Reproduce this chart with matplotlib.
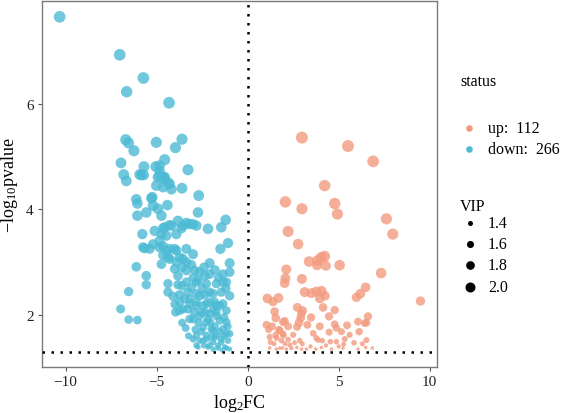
import matplotlib
matplotlib.use("Agg")
import matplotlib.pyplot as plt

plt.rcParams["font.family"] = ["Liberation Serif", "DejaVu Serif"]
plt.rcParams["mathtext.fontset"] = "custom"
plt.rcParams["mathtext.rm"] = "Liberation Serif"
plt.rcParams["mathtext.it"] = "Liberation Serif:italic"

UP_COLOR = "#F39B7F"
DOWN_COLOR = "#4DBBD5"

# up-regulated: (log2FC, -log10 p, VIP)
up_fc = [2.98, 5.51, 6.89, 4.23, 2.07, 2.98, 4.78, 4.93, 7.62, 7.97, 2.22, 2.77, 3.37, 3.83, 4.05,
         4.23, 3.81, 4.29, 5.05, 7.33, 2.12, 2.07, 2.03, 2.98, 3.13, 3.50, 3.77, 4.05, 3.96, 4.25,
         6.48, 6.19, 5.97, 9.49, 1.08, 1.39, 1.69, 1.48, 1.54, 2.73, 3.01, 2.91, 2.82, 3.48, 4.14,
         4.47, 4.78, 2.03, 2.22, 1.03, 1.34, 1.72, 1.96, 2.71, 3.28, 3.96, 4.78, 4.87, 5.46, 6.06,
         6.61, 6.52, 6.12, 4.47, 5.15, 3.77, 4.10, 4.54, 4.87, 5.33, 5.84, 6.52, 1.21, 1.25, 1.58,
         1.85, 2.31, 2.40, 2.86, 3.23, 1.21, 1.58, 1.90, 4.05, 4.60, 5.24, 6.06, 6.48, 6.85, 2.12,
         2.58, 2.22, 2.95, 3.74, 5.27, 1.94, 1.76, 1.54, 1.94, 2.95, 6.43, 3.87, 1.76, 1.15, 2.50,
         3.60, 5.60, 3.00, 4.30, 5.00, 2.70, 1.45, 6.30, 3.45, 2.05]
up_p = [5.36, 5.20, 4.91, 4.45, 4.14, 4.01, 4.11, 3.91, 3.82, 3.53, 3.58, 3.34, 3.01, 3.03, 3.09,
        3.11, 2.94, 2.93, 2.94, 2.79, 2.86, 2.69, 2.60, 2.68, 2.43, 2.41, 2.44, 2.45, 2.31, 2.36,
        2.52, 2.40, 2.33, 2.26, 2.31, 2.25, 2.32, 2.06, 1.94, 2.14, 2.08, 1.94, 1.85, 1.95, 2.14,
        1.97, 2.09, 1.88, 1.78, 1.81, 1.78, 1.72, 1.61, 1.77, 1.81, 1.78, 1.82, 1.75, 1.80, 1.87,
        1.97, 1.85, 1.68, 1.67, 1.68, 1.56, 1.51, 1.49, 1.49, 1.54, 1.47, 1.52, 1.58, 1.48, 1.56,
        1.51, 1.43, 1.37, 1.51, 1.35, 1.37, 1.35, 1.37, 1.38, 1.35, 1.37, 1.35, 1.38, 1.37, 1.35,
        1.47, 1.53, 1.35, 1.35, 1.44, 1.86, 1.70, 1.62, 1.64, 2.02, 1.84, 1.52, 1.37, 1.72, 1.62,
        1.65, 1.62, 1.45, 1.42, 1.40, 1.38, 1.45, 1.45, 1.40, 1.45]
up_vip = [2.35, 2.35, 2.30, 2.25, 2.25, 2.20, 2.25, 2.20, 2.20, 2.20, 2.20, 2.10, 2.10, 2.10, 2.15,
          2.15, 2.00, 2.00, 2.10, 2.10, 2.00, 2.00, 1.95, 2.00, 2.00, 2.00, 2.00, 2.05, 1.95, 1.90,
          1.95, 1.95, 1.90, 1.90, 1.95, 1.90, 1.95, 1.80, 1.80, 1.85, 1.85, 1.80, 1.80, 1.75, 1.80,
          1.75, 1.75, 1.75, 1.70, 1.70, 1.70, 1.65, 1.55, 1.70, 1.70, 1.70, 1.70, 1.65, 1.70, 1.70,
          1.75, 1.70, 1.65, 1.60, 1.60, 1.50, 1.45, 1.45, 1.45, 1.50, 1.45, 1.50, 1.50, 1.45, 1.50,
          1.45, 1.40, 1.35, 1.45, 1.30, 1.30, 1.30, 1.30, 1.30, 1.30, 1.30, 1.30, 1.30, 1.30, 1.30,
          1.40, 1.45, 1.30, 1.30, 1.40, 1.70, 1.65, 1.55, 1.55, 1.80, 1.65, 1.45, 1.30, 1.60, 1.50,
          1.55, 1.50, 1.40, 1.35, 1.35, 1.30, 1.40, 1.40, 1.35, 1.40]

# down-regulated
down_fc = [-10.33, -7.03, -5.73, -6.65, -4.32, -6.70, -6.55, -6.25, -5.02, -3.61, -3.97, -6.96, -5.70, -5.05, -4.56,
           -3.28, -4.84, -6.81, -5.93, -5.84, -4.84, -4.56, -6.67, -5.71, -4.65, -4.38, -4.19, -4.84, -4.93, -4.56,
           -4.29, -4.65, -5.02, -3.61, -2.69, -5.24, -6.12, -6.06, -5.29, -5.20, -4.93, -4.41, -6.06, -5.57, -4.74,
           -2.73, -1.21, -1.45, -3.83, -3.37, -4.29, -4.65, -3.64, -3.00, -2.18, -5.11, -5.79, -4.47, -3.92, -2.82,
           -3.19, -3.56, -4.19, -4.56, -4.74, -4.84, -5.20, -5.66, -5.38, -4.65, -4.29, -3.92, -3.37, -3.00, -1.08,
           -1.50, -4.65, -4.29, -3.56, -2.09, -0.99, -5.75, -4.84, -4.47, -4.01, -3.74, -4.38, -4.74, -3.92, -3.37,
           -6.12, -5.57, -5.57, -6.54, -6.98, -6.54, -6.06, -4.01, -3.83, -3.37, -2.91, -2.36, -2.09, -1.36, -0.99,
           -4.38, -4.38, -3.83, -3.37, -3.09, -2.73, -2.27, -1.72, -1.36, -3.74, -3.28, -2.82, -2.36, -1.45, -0.99,
           -3.96, -3.56, -3.19, -2.82, -2.45, -2.09, -1.72, -1.36, -1.17, -2.54, -2.09, -1.72, -3.00, -2.27, -1.54,
           -1.17, -3.41, -2.87, -1.99, -1.36, -2.82, -2.27, -1.72, -1.17, -3.00, -2.45, -1.91, -1.45, -1.08, -2.73,
           -2.18, -1.63, -1.17, -2.82, -2.64, -1.17, -2.09, -2.64, -3.19, -3.74, -3.74, -3.28, -2.82, -2.27, -1.81,
           -1.54, -1.72, -2.64, -3.19, -2.18, -2.45, -1.91, -0.99, -2.64, -2.27, -1.81, -1.45, -2.82, -2.09, -1.63,
           -1.26, -0.99, -3.60, -3.10, -2.40, -1.80, -1.60, -3.60, -3.00, -2.50, -1.90, -1.20, -4.10, -3.45, -2.95,
           -2.35, -1.90, -1.30, -2.70, -2.05, -1.80, -1.10, -2.55, -1.55, -2.00, -1.30, -2.40, -1.90, -1.40, -3.25,
           -3.60, -4.00]
down_p = [7.65, 6.93, 6.49, 6.23, 6.02, 5.32, 5.26, 5.11, 5.27, 5.33, 5.17, 4.88, 4.81, 4.81, 4.94,
          4.75, 4.83, 4.66, 4.66, 4.65, 4.64, 4.61, 4.54, 4.65, 4.61, 4.51, 4.38, 4.73, 4.61, 4.57,
          4.48, 4.42, 4.45, 4.40, 4.26, 4.23, 4.19, 4.11, 4.21, 4.07, 4.01, 4.08, 3.88, 3.94, 3.88,
          3.94, 3.80, 3.66, 3.78, 3.74, 3.70, 3.64, 3.64, 3.72, 3.63, 3.59, 3.53, 3.50, 3.53, 3.69,
          3.72, 3.69, 3.69, 3.66, 3.53, 3.41, 3.34, 3.26, 3.25, 3.30, 3.25, 3.22, 3.25, 3.15, 3.36,
          3.25, 3.13, 3.06, 3.06, 2.98, 2.98, 3.28, 3.28, 3.22, 3.25, 3.09, 3.09, 2.96, 3.00, 3.00,
          2.91, 2.74, 2.57, 2.44, 2.11, 1.91, 1.90, 2.87, 2.74, 2.84, 2.84, 2.74, 2.77, 2.77, 2.81,
          2.59, 2.43, 2.57, 2.62, 2.52, 2.65, 2.59, 2.59, 2.62, 2.38, 2.43, 2.40, 2.38, 2.43, 2.36,
          2.05, 2.11, 2.21, 2.24, 2.17, 2.24, 2.17, 2.21, 2.08, 2.04, 2.02, 1.98, 1.92, 1.86, 1.89,
          1.86, 1.75, 1.72, 1.73, 1.73, 1.61, 1.61, 1.61, 1.64, 1.54, 1.51, 1.48, 1.48, 1.51, 1.39,
          1.39, 1.37, 1.37, 2.62, 2.81, 2.62, 2.43, 2.36, 2.30, 2.24, 2.08, 2.11, 2.17, 2.21, 2.24,
          2.17, 2.05, 1.98, 1.92, 1.92, 1.76, 1.70, 1.64, 1.51, 1.54, 1.57, 1.54, 1.42, 1.42, 1.42,
          1.39, 1.35, 2.90, 2.95, 2.90, 2.85, 2.70, 2.55, 2.70, 2.50, 2.40, 2.50, 2.35, 2.30, 2.05,
          2.05, 2.10, 1.95, 1.85, 1.85, 1.78, 1.78, 1.68, 1.68, 1.58, 1.60, 1.42, 1.35, 1.33, 1.60,
          1.85, 2.20]
down_vip = [2.30, 2.30, 2.30, 2.25, 2.30, 2.20, 2.20, 2.20, 2.20, 2.20, 2.20, 2.15, 2.15, 2.15, 2.20,
            2.20, 2.10, 2.15, 2.15, 2.10, 2.10, 2.10, 2.15, 2.10, 2.10, 2.10, 2.10, 2.10, 2.10, 2.10,
            2.10, 2.10, 2.10, 2.15, 2.15, 2.10, 2.10, 2.10, 2.10, 2.10, 2.10, 2.10, 2.10, 2.10, 2.10,
            2.10, 2.10, 2.10, 2.10, 2.10, 2.05, 2.05, 2.05, 2.05, 2.10, 2.05, 2.05, 2.05, 2.05, 2.05,
            2.05, 2.05, 2.05, 2.05, 2.00, 2.00, 2.00, 2.00, 2.00, 2.00, 2.00, 2.00, 2.00, 2.00, 2.05,
            2.05, 2.00, 2.00, 2.00, 2.00, 2.00, 2.00, 2.00, 2.00, 2.00, 2.00, 2.00, 1.95, 1.95, 1.95,
            1.95, 1.95, 1.90, 1.90, 1.85, 1.80, 1.80, 1.95, 1.95, 1.95, 1.95, 1.95, 1.95, 1.95, 1.95,
            1.90, 1.90, 1.90, 1.90, 1.90, 1.90, 1.90, 1.90, 1.90, 1.90, 1.90, 1.90, 1.90, 1.90, 1.90,
            1.85, 1.85, 1.85, 1.85, 1.85, 1.85, 1.85, 1.85, 1.80, 1.80, 1.80, 1.80, 1.80, 1.75, 1.75,
            1.75, 1.70, 1.70, 1.70, 1.70, 1.65, 1.65, 1.65, 1.65, 1.60, 1.55, 1.55, 1.55, 1.55, 1.45,
            1.45, 1.45, 1.45, 1.90, 1.95, 1.90, 1.90, 1.90, 1.85, 1.85, 1.85, 1.85, 1.85, 1.85, 1.85,
            1.85, 1.80, 1.80, 1.80, 1.80, 1.70, 1.70, 1.65, 1.55, 1.60, 1.60, 1.60, 1.50, 1.50, 1.50,
            1.45, 1.40, 1.95, 1.95, 1.95, 1.95, 1.90, 1.90, 1.90, 1.90, 1.90, 1.90, 1.90, 1.85, 1.85,
            1.80, 1.80, 1.80, 1.75, 1.75, 1.70, 1.70, 1.65, 1.65, 1.60, 1.60, 1.50, 1.45, 1.40, 1.60,
            1.70, 1.85]

n_up = 112
n_down = 266
legend_vip = [1.4, 1.6, 1.8, 2.0]
p_cut = 1.301


def vip_size(v):
    # area grows linearly with VIP, in points^2 (1 px = 0.72 pt at dpi 100)
    d2 = max(25 + 125 * (v - 1.4), 6)
    return 0.5184 * d2


fig = plt.figure(figsize=(5.67, 4.14), dpi=100)
ax = fig.add_axes([42 / 567, 46 / 414, 395 / 567, 366 / 414])

ax.scatter(down_fc, down_p, s=[vip_size(v) for v in down_vip], c=DOWN_COLOR,
           alpha=0.8, linewidths=0, zorder=2)
ax.scatter(up_fc, up_p, s=[vip_size(v) for v in up_vip], c=UP_COLOR,
           alpha=0.8, linewidths=0, zorder=2)

dots = (0, (1, 2.6))
ax.axhline(p_cut, color="black", lw=1.8, ls=dots, dash_capstyle="butt", zorder=3)
ax.axvline(0, color="black", lw=1.8, ls=dots, dash_capstyle="butt", zorder=3)

ax.set_xlim(-11.3, 10.4)
ax.set_ylim(1.01, 7.95)
ax.set_xticks([-10, -5, 0, 5, 10])
ax.set_xticklabels(["\u221210", "\u22125", "0", "5", "10"])
ax.set_yticks([2, 4, 6])
for sp in ax.spines.values():
    sp.set_color("#7a7a7a")
    sp.set_linewidth(1.0)
ax.tick_params(colors="#555555", labelcolor="#222222", labelsize=11, length=3, width=0.8, pad=3)

ax.set_xlabel("log$_2$FC", fontsize=13, labelpad=3)
ax.set_ylabel("\u2212log$_{10}$pvalue", fontsize=13, labelpad=4)

# legends drawn in pixel coordinates
lax = fig.add_axes([0, 0, 1, 1])
lax.set_xlim(0, 567)
lax.set_ylim(414, 0)
lax.axis("off")

lax.text(460, 82, "status", fontsize=11.5, va="center", ha="left")
lax.scatter([469], [129], s=vip_size(1.55), c=UP_COLOR, linewidths=0)
lax.scatter([469], [150], s=vip_size(1.55), c=DOWN_COLOR, linewidths=0)
lax.text(488, 129, f"up:  {n_up}", fontsize=11.5, va="center", ha="left")
lax.text(488, 150, f"down:  {n_down}", fontsize=11.5, va="center", ha="left")

lax.text(460, 207, "VIP", fontsize=11.5, va="center", ha="left")
leg_y = [224, 245, 266, 288]
for v, y in zip(legend_vip, leg_y):
    lax.scatter([470], [y], s=vip_size(v), c="black", linewidths=0)
    lax.text(488, y, f"{v:.1f}", fontsize=11.5, va="center", ha="left")

fig.savefig("out.png", dpi=100)
